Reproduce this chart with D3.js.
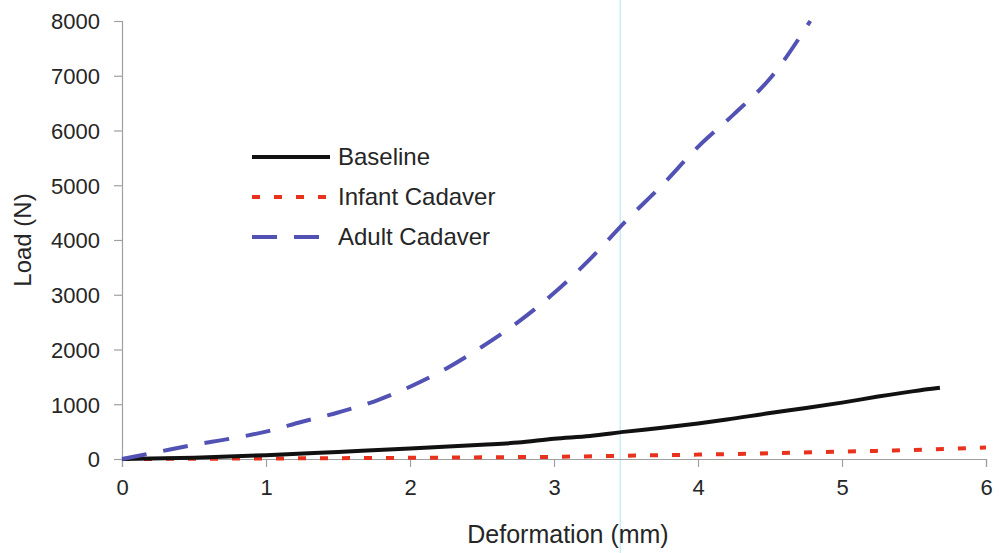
<!DOCTYPE html>
<html>
<head>
<meta charset="utf-8">
<script src="https://cdn.jsdelivr.net/npm/d3@7"></script>
<style>
  html, body { margin: 0; padding: 0; background: #ffffff; }
  svg { display: block; font-family: "Liberation Sans", Arial, sans-serif; }
</style>
</head>
<body>
<svg id="chart" width="999" height="553"></svg>
<script>
// ---- data ----
const xTicks = [0, 1, 2, 3, 4, 5, 6];
const yTicks = [0, 1000, 2000, 3000, 4000, 5000, 6000, 7000, 8000];

const baselineX = [0, 0.5, 1, 1.5, 2, 2.5, 2.75, 3, 3.25, 3.5, 3.75, 4, 4.2, 4.5, 4.75, 5, 5.25, 5.5, 5.68];
const baselineY = [0, 25, 70, 130, 190, 260, 300, 370, 420, 500, 570, 650, 720, 840, 930, 1030, 1140, 1240, 1300];

const infantX = [0, 0.5, 1, 1.5, 2, 2.5, 3, 3.5, 4, 4.5, 5, 5.5, 6];
const infantY = [0, 5, 10, 15, 22, 30, 40, 60, 80, 105, 135, 165, 210];

const adultX = [0, 0.25, 0.5, 0.75, 1, 1.25, 1.5, 1.75, 2, 2.25, 2.5, 2.75, 3, 3.25, 3.5, 3.75, 4, 4.25, 4.5, 4.78];
const adultY = [0, 130, 260, 370, 500, 680, 850, 1050, 1320, 1650, 2050, 2500, 3030, 3650, 4350, 5000, 5700, 6300, 6950, 8000];

const seriesNames = ["Baseline", "Infant Cadaver", "Adult Cadaver"];
const seriesColors = ["#111111", "#e8321e", "#5252b4"];
const seriesDash = [null, "8,14", "25,17"];

const xTitle = "Deformation (mm)";
const yTitle = "Load (N)";

// ---- layout ----
const svg = d3.select("#chart");
const margin = { left: 122, right: 13, top: 21, bottom: 94 };
const W = 999, H = 553;
const x = d3.scaleLinear().domain([0, 6]).range([margin.left, W - margin.right]);
const y = d3.scaleLinear().domain([0, 8000]).range([H - margin.bottom, margin.top]);

// scan artifact vertical line
svg.append("line")
  .attr("x1", x(3.46)).attr("x2", x(3.46))
  .attr("y1", 0).attr("y2", H)
  .attr("stroke", "#c9eef7").attr("stroke-width", 1.5);

// axes
const axisColor = "#a0a0a0";
const textColor = "#262626";

const gx = svg.append("g")
  .attr("transform", `translate(0,${y(0)})`)
  .call(d3.axisBottom(x).tickValues(xTicks).tickFormat(d3.format("d")).tickSize(8).tickPadding(12));
const gy = svg.append("g")
  .attr("transform", `translate(${x(0)},0)`)
  .call(d3.axisLeft(y).tickValues(yTicks).tickFormat(d3.format("d")).tickSize(8).tickPadding(14));

[gx, gy].forEach(g => {
  g.select(".domain").attr("stroke", axisColor).attr("stroke-width", 1.2);
  g.selectAll(".tick line").attr("stroke", axisColor).attr("stroke-width", 1.2);
  g.selectAll(".tick text").attr("fill", textColor)
    .style("font-size", "22px").style("font-family", "'Liberation Sans', Arial, sans-serif");
});
gy.selectAll(".tick text").attr("dy", "0.36em");

// axis titles
svg.append("text")
  .attr("x", 568).attr("y", H - 10)
  .attr("text-anchor", "middle")
  .attr("fill", textColor).style("font-size", "25px")
  .text(xTitle);

svg.append("text")
  .attr("transform", `translate(31,${(y(0) + y(8000)) / 2}) rotate(-90)`)
  .attr("text-anchor", "middle")
  .attr("fill", textColor).style("font-size", "24px")
  .text(yTitle);

// lines
const line = d3.line().x(d => x(d[0])).y(d => y(d[1])).curve(d3.curveMonotoneX);
const seriesData = [
  d3.zip(baselineX, baselineY),
  d3.zip(infantX, infantY),
  d3.zip(adultX, adultY)
];
// draw order: infant, baseline, adult
[1, 0, 2].forEach(i => {
  svg.append("path")
    .datum(seriesData[i])
    .attr("fill", "none")
    .attr("stroke", seriesColors[i])
    .attr("stroke-width", 4)
    .attr("stroke-dasharray", seriesDash[i])
    .attr("d", line);
});

// legend
const legend = svg.append("g").attr("transform", "translate(252,157)");
seriesNames.forEach((name, i) => {
  const g = legend.append("g").attr("transform", `translate(0,${i * 40})`);
  g.append("line")
    .attr("x1", 0).attr("x2", 78)
    .attr("y1", 0).attr("y2", 0)
    .attr("stroke", seriesColors[i])
    .attr("stroke-width", 4)
    .attr("stroke-dasharray", seriesDash[i]);
  g.append("text")
    .attr("x", 86).attr("y", 0).attr("dy", "0.35em")
    .attr("fill", textColor).style("font-size", "24px")
    .text(name);
});
</script>
</body>
</html>
